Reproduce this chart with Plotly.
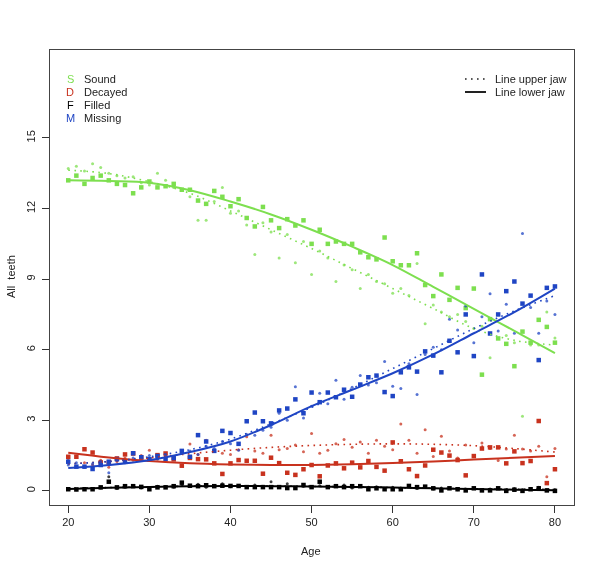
import plotly.graph_objects as go

ages = list(range(20, 81))

# Lower jaw (squares) and upper jaw (small dots) mean counts per age
sound_lower = [13.2, 13.4, 13.05, 13.3, 13.4, 13.2, 13.05, 13.0, 12.65, 12.9,
               13.15, 12.9, 12.95, 13.05, 12.8, 12.8, 12.34, 12.2, 12.75, 12.5,
               12.1, 12.4, 11.6, 11.24, 12.07, 11.5, 11.17, 11.55, 11.28, 11.5,
               10.5, 11.1, 10.5, 10.6, 10.5, 10.5, 10.14, 9.93, 9.84, 10.77,
               9.76, 9.59, 9.59, 10.1, 8.75, 8.28, 9.2, 8.12, 8.63, 7.77,
               8.6, 4.94, 7.3, 6.48, 6.25, 5.3, 6.77, 6.3, 7.27, 6.97, 6.3]
sound_upper = [13.7, 13.8, 13.6, 13.9, 13.75, 13.5, 13.4, 13.3, 13.35, 13.1,
               13.0, 13.5, 13.2, 12.9, 12.8, 12.5, 11.5, 11.5, 12.3, 12.9,
               11.8, 11.9, 11.3, 10.05, 11.4, 11.0, 9.9, 10.9, 9.7, 10.6,
               9.2, 10.2, 9.9, 8.9, 9.6, 9.4, 8.6, 9.2, 8.9, 8.8,
               8.4, 8.6, 8.3, 9.67, 7.1, 7.9, 7.6, 7.4, 7.5, 7.2,
               6.9, 7.0, 5.66, 7.5, 6.6, 6.3, 3.17, 6.2, 6.2, 7.6, 6.5]
decayed_lower = [1.45, 1.45, 1.77, 1.63, 1.21, 1.2, 1.38, 1.55, 1.59, 1.42,
                 1.34, 1.52, 1.59, 1.34, 1.07, 1.4, 1.35, 1.34, 1.17, 0.72,
                 1.17, 1.31, 1.28, 1.28, 0.73, 1.41, 1.18, 0.77, 0.68, 0.92,
                 1.1, 0.62, 1.08, 1.17, 0.96, 1.2, 1.0, 1.27, 1.02, 0.86,
                 2.06, 1.26, 0.92, 0.63, 1.08, 1.75, 1.63, 1.5, 1.31, 0.66,
                 1.48, 1.8, 1.85, 1.85, 1.17, 1.68, 1.18, 1.27, 2.97, 0.33, 0.92]
decayed_upper = [1.3, 1.05, 1.2, 1.1, 1.3, 1.0, 1.25, 1.4, 1.3, 1.5,
                 1.73, 1.35, 1.5, 1.45, 1.6, 1.99, 1.55, 2.15, 1.7, 1.6,
                 1.55, 1.75, 2.3, 1.7, 1.6, 2.37, 1.75, 1.8, 1.95, 1.66,
                 2.44, 1.6, 1.73, 2.0, 2.18, 1.85, 2.08, 1.6, 2.15, 1.9,
                 1.75, 2.84, 2.15, 1.6, 2.6, 1.46, 2.32, 1.7, 1.4, 1.95,
                 1.5, 2.04, 1.8, 1.29, 1.78, 2.37, 1.78, 1.7, 1.9, 0.6, 1.8]
filled_lower = [0.07, 0.06, 0.07, 0.07, 0.15, 0.39, 0.15, 0.2, 0.2, 0.17,
                0.07, 0.15, 0.15, 0.2, 0.35, 0.22, 0.2, 0.24, 0.2, 0.22,
                0.21, 0.21, 0.16, 0.16, 0.16, 0.16, 0.16, 0.12, 0.12, 0.25,
                0.16, 0.39, 0.16, 0.2, 0.16, 0.2, 0.2, 0.07, 0.11, 0.07,
                0.07, 0.07, 0.21, 0.16, 0.18, 0.11, 0.02, 0.11, 0.07, 0.02,
                0.11, 0.02, 0.02, 0.11, 0.0, 0.05, 0.0, 0.07, 0.11, 0.02, 0.0]
filled_upper = [0.1, 0.05, 0.1, 0.08, 0.12, 0.6, 0.1, 0.15, 0.22, 0.12,
                0.1, 0.2, 0.18, 0.15, 0.25, 0.2, 0.28, 0.15, 0.2, 0.3,
                0.18, 0.22, 0.15, 0.25, 0.2, 0.39, 0.15, 0.3, 0.12, 0.2,
                0.18, 0.22, 0.15, 0.2, 0.25, 0.12, 0.2, 0.15, 0.18, 0.1,
                0.15, 0.12, 0.2, 0.1, 0.15, 0.08, 0.12, 0.1, 0.05, 0.08,
                0.1, 0.05, 0.08, 0.12, 0.05, 0.1, 0.05, 0.08, 0.15, 0.05, 0.05]
missing_lower = [1.24, 1.03, 1.03, 0.93, 1.1, 1.24, 1.35, 1.24, 1.6, 1.43,
                 1.35, 1.48, 1.35, 1.4, 1.7, 1.45, 2.37, 2.1, 1.7, 2.55,
                 2.46, 2.0, 2.96, 3.33, 2.96, 2.87, 3.42, 3.5, 3.89, 3.3,
                 4.18, 3.77, 4.18, 3.98, 4.3, 4.0, 4.52, 4.83, 4.9, 4.2,
                 4.03, 5.04, 5.25, 5.07, 5.93, 5.75, 5.04, 6.38, 5.89, 7.5,
                 5.73, 9.2, 6.69, 7.5, 8.49, 8.9, 7.96, 8.3, 5.56, 8.63, 8.69]
missing_upper = [1.1, 1.2, 1.0, 1.15, 1.25, 0.77, 1.3, 1.2, 1.4, 1.3,
                 1.5, 1.35, 1.55, 1.45, 1.6, 1.7, 1.55, 1.9, 1.8, 2.1,
                 2.0, 1.73, 2.4, 2.37, 2.58, 2.7, 3.3, 3.0, 4.43, 3.1,
                 3.6, 4.15, 3.7, 4.7, 3.9, 4.4, 4.9, 4.5, 4.6, 5.5,
                 4.45, 4.35, 5.4, 4.1, 5.8, 6.1, 6.0, 7.3, 6.84, 7.86,
                 6.3, 7.4, 8.38, 6.8, 7.93, 6.7, 10.94, 7.8, 6.7, 8.07, 7.5]

# Smoothed trend lines read at 5-year steps
line_ages = [20, 25, 30, 35, 40, 45, 50, 55, 60, 65, 70, 75, 80]
sound_lower_line = [13.2, 13.17, 13.1, 12.78, 12.3, 11.75, 11.1, 10.38, 9.6, 8.67, 7.74, 6.8, 5.86]
sound_upper_line = [13.63, 13.49, 13.14, 12.65, 11.9, 11.1, 10.3, 9.45, 8.6, 7.75, 6.9, 6.4, 6.2]
decayed_lower_line = [1.62, 1.42, 1.27, 1.17, 1.12, 1.1, 1.1, 1.13, 1.18, 1.25, 1.33, 1.41, 1.48]
decayed_upper_line = [1.15, 1.25, 1.4, 1.58, 1.73, 1.85, 1.93, 1.98, 2.0, 1.98, 1.92, 1.8, 1.65]
filled_lower_line = [0.08, 0.13, 0.17, 0.2, 0.21, 0.2, 0.19, 0.17, 0.14, 0.11, 0.08, 0.05, 0.03]
filled_upper_line = [0.1, 0.14, 0.17, 0.2, 0.2, 0.2, 0.19, 0.17, 0.14, 0.11, 0.09, 0.07, 0.06]
missing_lower_line = [0.97, 1.1, 1.3, 1.65, 2.1, 2.8, 3.6, 4.3, 5.0, 5.8, 6.7, 7.6, 8.6]
missing_upper_line = [1.15, 1.25, 1.45, 1.75, 2.2, 2.85, 3.55, 4.35, 5.2, 6.05, 6.9, 7.65, 8.3]

x_ticks = [20, 30, 40, 50, 60, 70, 80]
y_ticks = [0, 3, 6, 9, 12, 15]

GREEN = "#7ddf4f"
RED = "#c8321e"
BLACK = "#000000"
BLUE = "#1f45c4"

groups = [
    ("Sound", GREEN, sound_upper, sound_lower, sound_upper_line, sound_lower_line),
    ("Decayed", RED, decayed_upper, decayed_lower, decayed_upper_line, decayed_lower_line),
    ("Filled", BLACK, filled_upper, filled_lower, filled_upper_line, filled_lower_line),
    ("Missing", BLUE, missing_upper, missing_lower, missing_upper_line, missing_lower_line),
]

DOT = "1.6px,4.4px"

fig = go.Figure()
for name, col, up, lo, upl, lol in groups:
    fig.add_trace(go.Scatter(x=ages, y=up, mode="markers",
                             marker=dict(symbol="circle", size=3, color=col, line=dict(width=0)),
                             opacity=0.75, showlegend=False, hoverinfo="skip"))
    fig.add_trace(go.Scatter(x=ages, y=lo, mode="markers",
                             marker=dict(symbol="square", size=4.5, color=col, line=dict(width=0)),
                             showlegend=False, hoverinfo="skip"))
for name, col, up, lo, upl, lol in groups:
    fig.add_trace(go.Scatter(x=line_ages, y=upl, mode="lines", line_shape="spline",
                             line=dict(color=col, width=1.6, dash=DOT),
                             showlegend=False, hoverinfo="skip"))
    fig.add_trace(go.Scatter(x=line_ages, y=lol, mode="lines", line_shape="spline",
                             line=dict(color=col, width=2),
                             showlegend=False, hoverinfo="skip"))

FAM = "Liberation Sans, Arial, sans-serif"
font = dict(family=FAM, size=11, color="#222222")

# Page body margin is removed below (post_script), so figure pixels == screen pixels
L, R, T, B = 50, 26, 50, 66
W, H = 600, 571
PW, PH = W - L - R, H - T - B

fig.update_layout(
    width=W, height=H,
    margin=dict(l=L, r=R, t=T, b=B, autoexpand=False),
    paper_bgcolor="white", plot_bgcolor="white",
    font=font,
    showlegend=False,
)
fig.update_xaxes(range=[17.75, 82.35], tickvals=x_ticks, ticks="outside", ticklen=7,
                 tickcolor="#333", showline=True, linecolor="#444", linewidth=1, mirror=True,
                 showgrid=False, zeroline=False, automargin=False, tickfont=font)
fig.update_yaxes(range=[-0.6, 18.74], tickvals=y_ticks, ticks="outside", ticklen=7,
                 tickcolor="#333", showline=True, linecolor="#444", linewidth=1, mirror=True,
                 showgrid=False, zeroline=False, tickangle=-90, automargin=False, tickfont=font,
                 ticklabelstandoff=3)


def px_x(x):
    return (x - L) / PW


def px_y(y):
    return 1 - (y - T) / PH


# Axis titles
fig.add_annotation(xref="paper", yref="paper", x=px_x(311), y=px_y(551), text="Age",
                   showarrow=False, xanchor="center", yanchor="middle", font=font)
fig.add_annotation(xref="paper", yref="paper", x=px_x(11), y=px_y(277), text="All  teeth",
                   showarrow=False, xanchor="center", yanchor="middle", textangle=-90, font=font)

# Left legend: coloured letter + label
legend_items = [("S", "Sound", GREEN), ("D", "Decayed", RED), ("F", "Filled", BLACK), ("M", "Missing", BLUE)]
for i, (letter, label, col) in enumerate(legend_items):
    yp = px_y(79 + i * 13)
    fig.add_annotation(xref="paper", yref="paper", x=px_x(70), y=yp, text=letter,
                       showarrow=False, xanchor="center", yanchor="middle",
                       font=dict(family=FAM, size=11, color=col))
    fig.add_annotation(xref="paper", yref="paper", x=px_x(82), y=yp, text=label,
                       showarrow=False, xanchor="left", yanchor="middle", font=font)

# Right legend: line styles
for i, (label, dash) in enumerate([("Line upper jaw", DOT), ("Line lower jaw", "solid")]):
    yp = px_y(79 + i * 13)
    fig.add_shape(type="line", xref="paper", yref="paper",
                  x0=px_x(465), x1=px_x(486), y0=yp, y1=yp,
                  line=dict(color="#222", width=1.6 if dash == DOT else 2, dash=dash))
    fig.add_annotation(xref="paper", yref="paper", x=px_x(493), y=yp, text=label,
                       showarrow=False, xanchor="left", yanchor="middle", font=font)

fig.write_html("out.html", config={"displayModeBar": False},
               post_script="document.body.style.margin='0px';document.body.style.padding='0px';")
